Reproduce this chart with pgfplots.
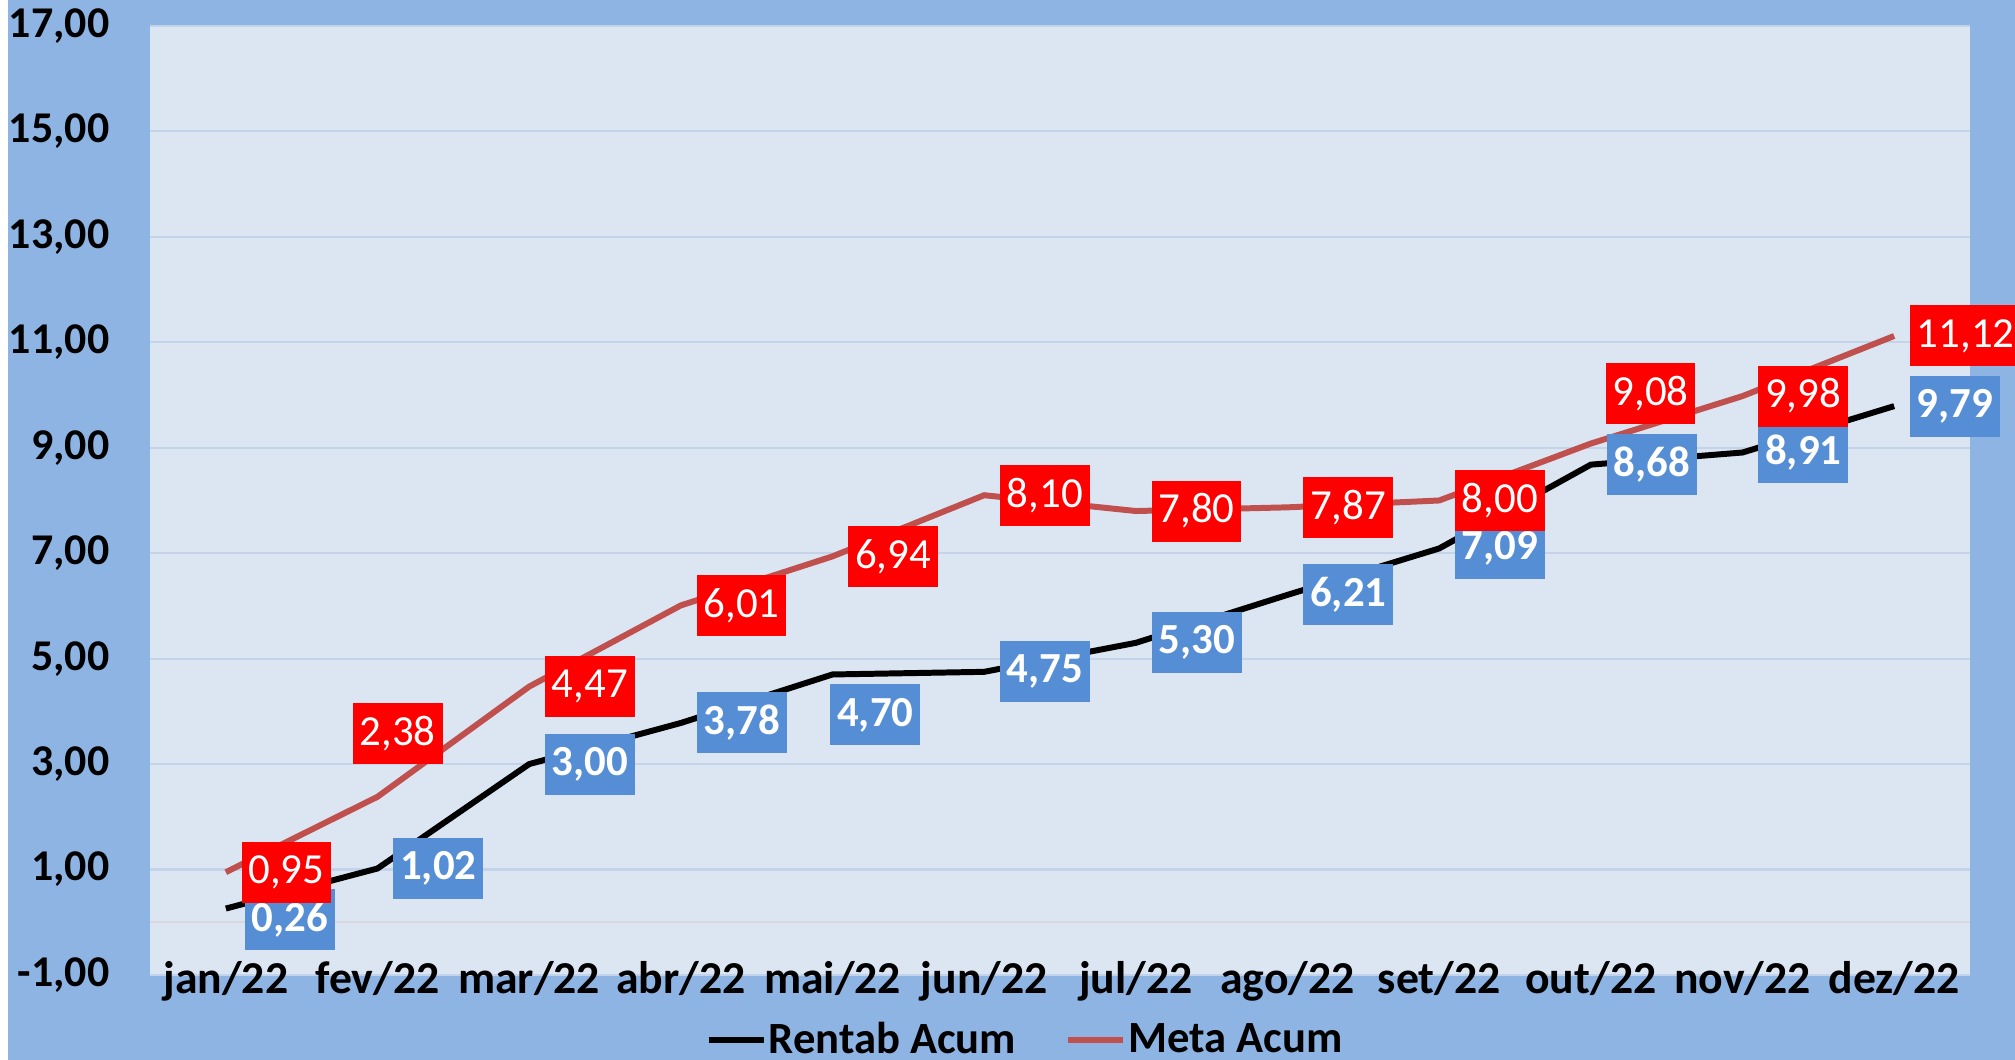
\documentclass[border=0pt]{standalone}
\usepackage{pgfplots}
\pgfplotsset{compat=1.18}
\usepackage{pgfplotstable}
\usepackage{fontspec}
\setmainfont{Carlito}
\definecolor{outerbg}{HTML}{8EB4E3}
\definecolor{plotbg}{HTML}{DCE6F2}
\definecolor{gridc}{HTML}{C3D4EA}
\definecolor{zeroc}{HTML}{D9D9D9}
\definecolor{metac}{HTML}{C0504D}
\definecolor{boxred}{HTML}{FF0000}
\definecolor{boxblue}{HTML}{558ED5}

\pgfplotstableread{
x y xs ys
0 0.26 1.8 -1.1
1 1.02 1.5 0
2 3.00 1.5 0
3 3.78 1.5 0
4 4.70 -0.3 -4.05
5 4.75 1.5 0
6 5.30 1.5 0
7 6.21 1.5 0
8 7.09 1.5 0
9 8.68 1.5 0
10 8.91 1.5 0
11 9.79 1.5 0
}\rentab

\pgfplotstableread{
x y xs ys
0 0.95 1.5 0
1 2.38 -2.55 6.3
2 4.47 1.5 0
3 6.01 1.5 0
4 6.94 1.5 0
5 8.10 1.5 0
6 7.80 1.5 0
7 7.87 1.5 0
8 8.00 1.5 0
9 9.08 1.4 5.0
10 9.98 1.5 0
11 11.12 1.5 0
}\meta

\begin{document}
\begin{tikzpicture}
\useasboundingbox (0,0) rectangle (201.5mm,106mm);
\fill[outerbg] (0,0) rectangle (201.5mm,106mm);
\fill[white] (0,0) rectangle (0.8mm,106mm);
\begin{axis}[
  at={(15mm,8.5mm)}, anchor=south west,
  scale only axis, width=182mm, height=94.9mm,
  xmin=-0.5, xmax=11.5, ymin=-1, ymax=17,
  clip=false,
  xtick={0,...,11},
  xticklabels={jan/22,fev/22,mar/22,abr/22,mai/22,jun/22,jul/22,ago/22,set/22,out/22,nov/22,dez/22},
  ytick={-1,1,...,17},
  axis line style={draw=none},
  major tick length=0pt,
  ymajorgrids,
  major grid style={draw=gridc, line width=0.6pt},
  axis background/.style={fill=plotbg},
  extra y ticks={0},
  extra y tick labels={},
  extra y tick style={major grid style={draw=zeroc, line width=0.6pt}},
  yticklabel style={font=\bfseries\fontsize{12.5}{14}\selectfont, anchor=east, inner sep=0pt, xshift=-4mm,
    /pgf/number format/.cd, fixed, fixed zerofill, precision=2, use comma, assume math mode=true},
  xticklabel style={font=\bfseries\fontsize{13}{15}\selectfont, anchor=base, inner sep=0pt, yshift=-1.9mm},
  legend columns=2,
  legend style={draw=none, fill=none, at={(0.4808,-0.0690)}, anchor=center,
    font=\bfseries\fontsize{12.7}{14}\selectfont, inner sep=0pt,
    nodes={inner sep=0.2mm},
    /tikz/every even column/.append style={column sep=4.7mm}},
  legend image code/.code={\draw[#1] (0mm,0mm) -- (5.5mm,0mm);},
]
\addplot[black, line width=1.7pt, mark=none] table[x=x,y=y] {\rentab};
\addlegendentry{Rentab Acum}
\addplot[metac, line width=1.7pt, mark=none] table[x=x,y=y] {\meta};
\addlegendentry{Meta Acum}

\addplot[draw=none, mark=none, forget plot,
  visualization depends on={\thisrow{xs}\as\xs},
  visualization depends on={\thisrow{ys}\as\ys},
  nodes near coords={\pgfmathprintnumber[fixed,fixed zerofill,precision=2,use comma,assume math mode=true]{\pgfplotspointmeta}},
  every node near coord/.append style={anchor=west, xshift=\xs*1mm, yshift=\ys*1mm,
    fill=boxblue, text=white, font=\bfseries\fontsize{12.2}{13}\selectfont,
    inner xsep=0.7mm, inner ysep=0pt, minimum height=6.1mm},
] table[x=x,y=y] {\rentab};

\addplot[draw=none, mark=none, forget plot,
  visualization depends on={\thisrow{xs}\as\xs},
  visualization depends on={\thisrow{ys}\as\ys},
  nodes near coords={\pgfmathprintnumber[fixed,fixed zerofill,precision=2,use comma,assume math mode=true]{\pgfplotspointmeta}},
  every node near coord/.append style={anchor=west, xshift=\xs*1mm, yshift=\ys*1mm,
    fill=boxred, text=white, font=\fontsize{12.2}{13}\selectfont,
    inner xsep=0.7mm, inner ysep=0pt, minimum height=6.1mm},
] table[x=x,y=y] {\meta};
\end{axis}
\end{tikzpicture}
\end{document}
